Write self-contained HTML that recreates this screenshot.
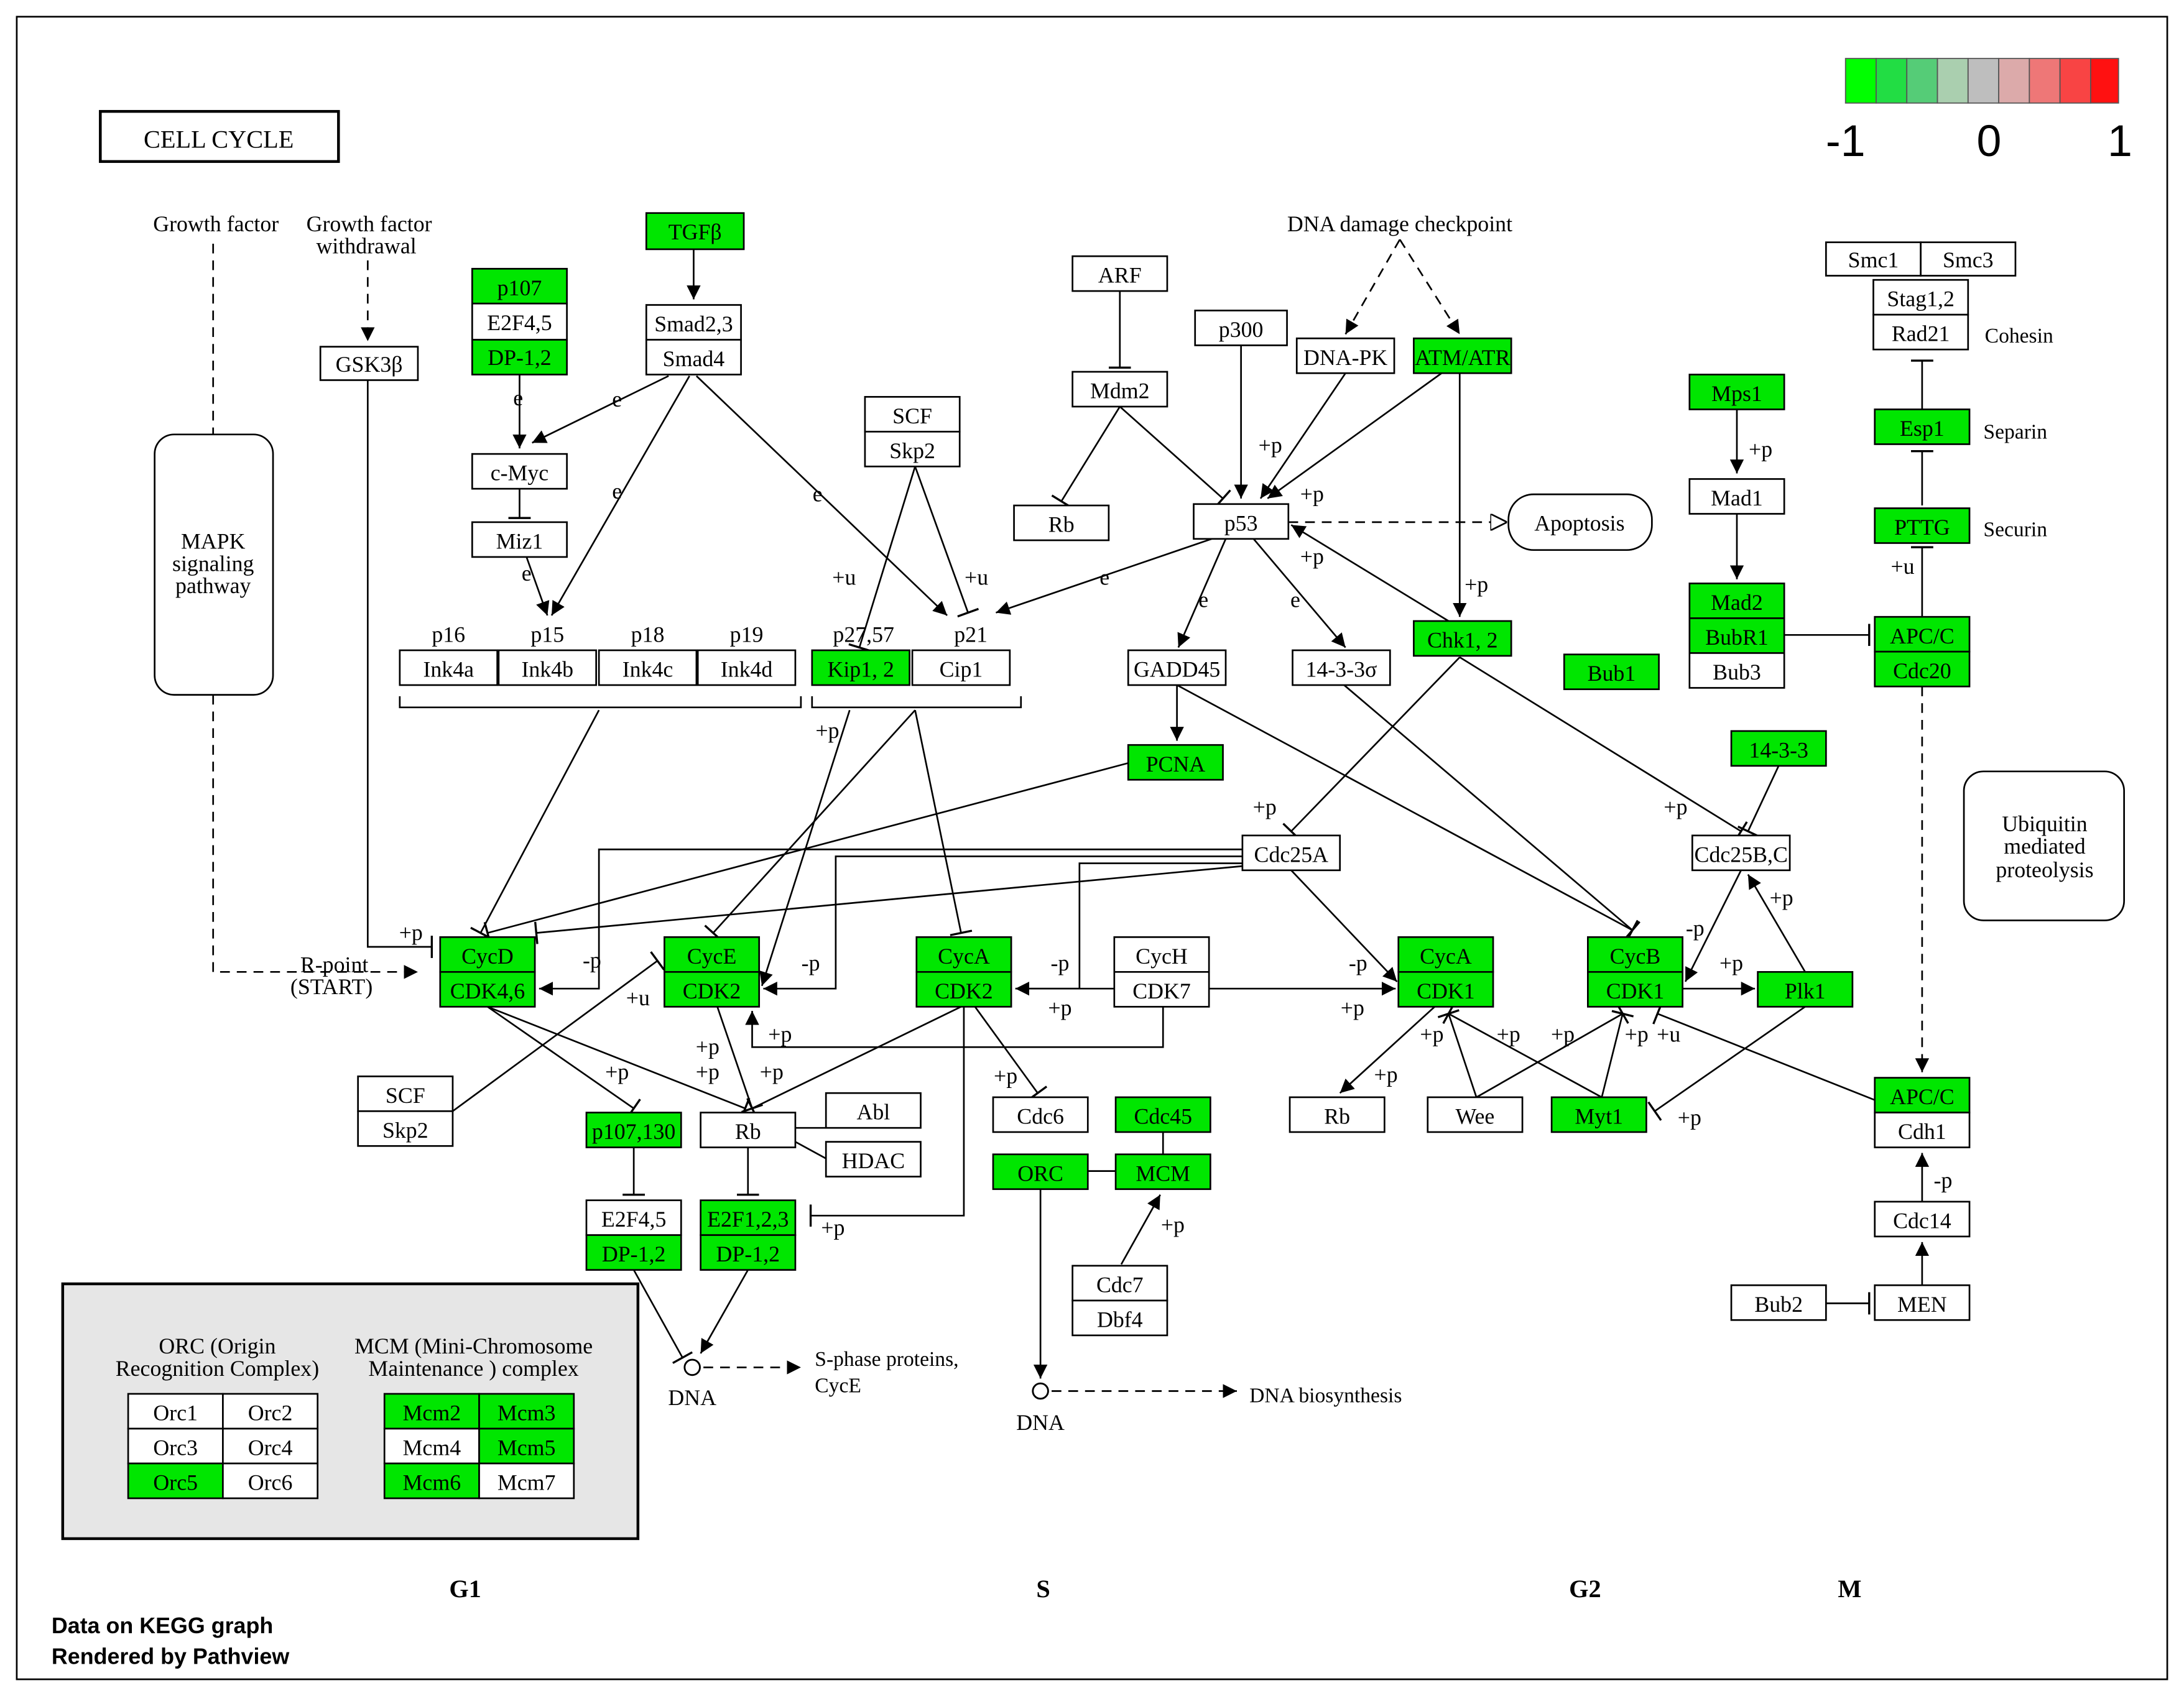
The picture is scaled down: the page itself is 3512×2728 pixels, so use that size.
<!DOCTYPE html>
<html><head><meta charset="utf-8"><style>
html,body{margin:0;padding:0;background:#fff}
svg{display:block}
text{font-family:"Liberation Serif",serif;font-size:16px;text-anchor:middle;fill:#000}
.b rect{fill:#fff;stroke:#000;stroke-width:1.2}
.g{fill:#00e600!important}
.e{fill:none;stroke:#000;stroke-width:1.2}
.d{stroke-dasharray:7,5}
.l{font-size:15px;text-anchor:start}
</style></head><body>
<svg width="3512" height="2728" viewBox="0 0 1568 1218" xmlns="http://www.w3.org/2000/svg">
<defs>
<marker id="a" viewBox="0 0 10 10" refX="10" refY="5" markerWidth="10" markerHeight="10" markerUnits="userSpaceOnUse" orient="auto"><path d="M0,0L10,5L0,10z" fill="#000"/></marker>
<marker id="o" viewBox="0 0 10 10" refX="10" refY="5" markerWidth="12" markerHeight="12" markerUnits="userSpaceOnUse" orient="auto"><path d="M0,0L10,5L0,10z" fill="#fff" stroke="#000"/></marker>
<marker id="t" viewBox="0 0 4 16" refX="2" refY="8" markerWidth="4" markerHeight="16" markerUnits="userSpaceOnUse" orient="auto"><path d="M2,0V16" stroke="#000" stroke-width="1.5"/></marker>
</defs>
<rect x="12" y="12" width="1544" height="1194" fill="#fff" stroke="#000" stroke-width="1.2"/>
<rect x="72" y="80" width="171" height="36" fill="#fff" stroke="#000" stroke-width="2"/>
<text x="157" y="106" style="font-size:18px">CELL  CYCLE</text>
<!-- colorbar -->
<g stroke="#555" stroke-width="0.8">
<rect x="1325" y="42" width="22" height="32" fill="#00ff00"/><rect x="1347" y="42" width="22" height="32" fill="#22dd44"/><rect x="1369" y="42" width="22" height="32" fill="#55cc77"/><rect x="1391" y="42" width="22" height="32" fill="#aacfaf"/><rect x="1413" y="42" width="22" height="32" fill="#bebebe"/><rect x="1435" y="42" width="22" height="32" fill="#dcaaaa"/><rect x="1457" y="42" width="22" height="32" fill="#ee7777"/><rect x="1479" y="42" width="22" height="32" fill="#f84444"/><rect x="1501" y="42" width="20" height="32" fill="#ff1111"/>
</g>
<text x="1325" y="112" style="font-family:'Liberation Sans',sans-serif;font-size:32px">-1</text>
<text x="1428" y="112" style="font-family:'Liberation Sans',sans-serif;font-size:32px">0</text>
<text x="1522" y="112" style="font-family:'Liberation Sans',sans-serif;font-size:32px">1</text>

<!-- rounded -->
<g fill="#fff" stroke="#000" stroke-width="1.2">
<rect x="111" y="312" width="85" height="187" rx="14"/>
<rect x="1083" y="355" width="103" height="40" rx="18"/>
<rect x="1410" y="554" width="115" height="107" rx="14"/>
<rect x="45" y="922" width="413" height="183" fill="#e6e6e6" stroke-width="2"/>
</g>
<text x="153" y="394">MAPK</text><text x="153" y="410">signaling</text><text x="153" y="426">pathway</text>
<text x="1134" y="381">Apoptosis</text>
<text x="1468" y="597">Ubiquitin</text><text x="1468" y="613">mediated</text><text x="1468" y="630">proteolysis</text>

<!-- edges -->
<g class="e">
<path class="d" d="M153,175V312M153,499V698H300" marker-end="url(#a)"/>
<path class="d" d="M264,187V245" marker-end="url(#a)"/>
<path d="M264,273V680H310" marker-end="url(#t)"/>
<path d="M498,179V215" marker-end="url(#a)"/>
<path d="M373,269V322" marker-end="url(#a)"/>
<path d="M480,270L382,318" marker-end="url(#a)"/>
<path d="M373,351V372" marker-end="url(#t)"/>
<path d="M378,400L393,442" marker-end="url(#a)"/>
<path d="M495,270L396,442" marker-end="url(#a)"/>
<path d="M500,270L680,442" marker-end="url(#a)"/>
<path d="M657,335L617,465" marker-end="url(#t)"/>
<path d="M657,335L695,440" marker-end="url(#t)"/>
<path d="M804,209V264" marker-end="url(#t)"/>
<path d="M804,292L762,360" marker-end="url(#t)"/>
<path d="M804,292L878,358" marker-end="url(#t)"/>
<path d="M891,248V358" marker-end="url(#a)"/>
<path class="d" d="M1005,172L966,240" marker-end="url(#a)"/>
<path class="d" d="M1005,172L1048,240" marker-end="url(#a)"/>
<path d="M966,268L905,358" marker-end="url(#a)"/>
<path d="M1035,268L910,358" marker-end="url(#a)"/>
<path d="M1048,268V443" marker-end="url(#a)"/>
<path class="d" d="M925,375H1082" marker-end="url(#o)"/>
<path d="M1040,446L927,377" marker-end="url(#a)"/>
<path d="M870,387L715,440" marker-end="url(#a)"/>
<path d="M880,387L846,465" marker-end="url(#a)"/>
<path d="M900,387L966,465" marker-end="url(#a)"/>
<path d="M845,492V532" marker-end="url(#a)"/>
<path d="M287,500V508H575V500M583,500V508H733V500"/>
<path d="M810,548L350,670" marker-end="url(#t)"/>
<path d="M430,510L345,670" marker-end="url(#t)"/>
<path d="M657,510L512,670" marker-end="url(#t)"/>
<path d="M657,510L690,670" marker-end="url(#t)"/>
<path d="M610,510L547,708" marker-end="url(#a)"/>
<path d="M892,610H430V710H387" marker-end="url(#a)"/>
<path d="M892,615H600V710H548" marker-end="url(#a)"/>
<path d="M892,620H775V710H729" marker-end="url(#a)"/>
<path d="M892,622L385,670" marker-end="url(#t)"/>
<path d="M927,625L1003,705" marker-end="url(#a)"/>
<path d="M845,492L1172,668" marker-end="url(#t)"/>
<path d="M965,492L1172,668" marker-end="url(#t)"/>
<path d="M1048,472L927,597" marker-end="url(#t)"/>
<path d="M1048,472L1250,597" marker-end="url(#t)"/>
<path d="M1277,550L1255,597" marker-end="url(#t)"/>
<path d="M1250,625L1210,705" marker-end="url(#a)"/>
<path d="M1296,698L1255,628" marker-end="url(#a)"/>
<path d="M1208,710H1260" marker-end="url(#a)"/>
<path d="M868,710H1002" marker-end="url(#a)"/>
<path d="M800,710H729" marker-end="url(#a)"/>
<path d="M835,723V752H540V726" marker-end="url(#a)"/>
<path d="M350,723L455,796" marker-end="url(#t)"/>
<path d="M350,723L535,796" marker-end="url(#t)"/>
<path d="M515,723L540,796" marker-end="url(#t)"/>
<path d="M690,723L540,796" marker-end="url(#t)"/>
<path d="M700,723L745,785" marker-end="url(#t)"/>
<path d="M692,723V873H582" marker-end="url(#t)"/>
<path d="M325,798L472,690" marker-end="url(#t)"/>
<path d="M455,824V858" marker-end="url(#t)"/>
<path d="M537,824V858" marker-end="url(#t)"/>
<path d="M571,810H593M571,820L593,832"/>
<path d="M455,912L490,975" marker-end="url(#t)"/>
<path d="M537,912L503,972" marker-end="url(#a)"/>
<path class="d" d="M505,982H575" marker-end="url(#a)"/>
<path d="M747,854V990" marker-end="url(#a)"/>
<path class="d" d="M755,999H888" marker-end="url(#a)"/>
<path d="M781,841H801M835,813V829"/>
<path d="M805,908L833,858" marker-end="url(#a)"/>
<path d="M1030,723L962,785" marker-end="url(#a)"/>
<path d="M1060,788L1040,728" marker-end="url(#t)"/>
<path d="M1060,788L1165,728" marker-end="url(#t)"/>
<path d="M1150,788L1040,728" marker-end="url(#t)"/>
<path d="M1150,788L1165,728" marker-end="url(#t)"/>
<path d="M1296,723L1188,798" marker-end="url(#t)"/>
<path d="M1346,790L1190,728" marker-end="url(#t)"/>
<path d="M1247,294V340" marker-end="url(#a)"/>
<path d="M1247,369V416" marker-end="url(#a)"/>
<path d="M1281,456H1342" marker-end="url(#t)"/>
<path d="M1380,294V259" marker-end="url(#t)"/>
<path d="M1380,363V324" marker-end="url(#t)"/>
<path d="M1380,443V393" marker-end="url(#t)"/>
<path class="d" d="M1380,493V770" marker-end="url(#a)"/>
<path d="M1380,863V828" marker-end="url(#a)"/>
<path d="M1380,923V892" marker-end="url(#a)"/>
<path d="M1311,936H1342" marker-end="url(#t)"/>
</g>
<circle cx="497" cy="982" r="5.5" fill="#fff" stroke="#000" stroke-width="1.3"/>
<circle cx="747" cy="999" r="5.5" fill="#fff" stroke="#000" stroke-width="1.3"/>

<!-- nodes -->
<g class="b">
<rect x="464" y="153" width="70" height="26" class="g"/>
<rect x="339" y="193" width="68" height="25" class="g"/><rect x="339" y="218" width="68" height="26"/><rect x="339" y="244" width="68" height="25" class="g"/>
<rect x="464" y="219" width="68" height="25"/><rect x="464" y="244" width="68" height="25"/>
<rect x="230" y="249" width="70" height="24"/>
<rect x="339" y="326" width="68" height="25"/><rect x="339" y="375" width="68" height="25"/>
<rect x="621" y="285" width="68" height="25"/><rect x="621" y="310" width="68" height="25"/>
<rect x="770" y="184" width="68" height="25"/><rect x="770" y="267" width="68" height="25"/><rect x="728" y="363" width="68" height="25"/>
<rect x="858" y="223" width="66" height="25"/><rect x="931" y="243" width="70" height="25"/><rect x="1015" y="243" width="70" height="25" class="g"/>
<rect x="857" y="362" width="68" height="25"/>
<rect x="1311" y="174" width="68" height="24"/><rect x="1379" y="174" width="68" height="24"/><rect x="1345" y="201" width="68" height="25"/><rect x="1345" y="226" width="68" height="25"/>
<rect x="1213" y="269" width="68" height="25" class="g"/><rect x="1213" y="344" width="68" height="25"/>
<rect x="1346" y="294" width="68" height="25" class="g"/><rect x="1346" y="365" width="68" height="25" class="g"/>
<rect x="1213" y="419" width="68" height="25" class="g"/><rect x="1213" y="444" width="68" height="25" class="g"/><rect x="1213" y="469" width="68" height="25"/>
<rect x="1123" y="470" width="68" height="25" class="g"/>
<rect x="1346" y="443" width="68" height="25" class="g"/><rect x="1346" y="468" width="68" height="25" class="g"/>
<rect x="287" y="467" width="70" height="25"/><rect x="358" y="467" width="70" height="25"/><rect x="430" y="467" width="70" height="25"/><rect x="501" y="467" width="70" height="25"/>
<rect x="583" y="467" width="70" height="25" class="g"/><rect x="655" y="467" width="70" height="25"/>
<rect x="810" y="467" width="70" height="25"/><rect x="928" y="467" width="70" height="25"/>
<rect x="1015" y="446" width="70" height="25" class="g"/>
<rect x="810" y="535" width="68" height="25" class="g"/>
<rect x="1243" y="525" width="68" height="25" class="g"/>
<rect x="892" y="600" width="70" height="25"/><rect x="1215" y="600" width="70" height="25"/>
<rect x="316" y="673" width="68" height="25" class="g"/><rect x="316" y="698" width="68" height="25" class="g"/>
<rect x="477" y="673" width="68" height="25" class="g"/><rect x="477" y="698" width="68" height="25" class="g"/>
<rect x="658" y="673" width="68" height="25" class="g"/><rect x="658" y="698" width="68" height="25" class="g"/>
<rect x="800" y="673" width="68" height="25"/><rect x="800" y="698" width="68" height="25"/>
<rect x="1004" y="673" width="68" height="25" class="g"/><rect x="1004" y="698" width="68" height="25" class="g"/>
<rect x="1140" y="673" width="68" height="25" class="g"/><rect x="1140" y="698" width="68" height="25" class="g"/>
<rect x="1262" y="698" width="68" height="25" class="g"/>
<rect x="257" y="773" width="68" height="25"/><rect x="257" y="798" width="68" height="25"/>
<rect x="421" y="799" width="68" height="25" class="g"/>
<rect x="503" y="799" width="68" height="25"/><rect x="593" y="785" width="68" height="25"/><rect x="593" y="820" width="68" height="25"/>
<rect x="713" y="788" width="68" height="25"/><rect x="801" y="788" width="68" height="25" class="g"/>
<rect x="713" y="829" width="68" height="25" class="g"/><rect x="801" y="829" width="68" height="25" class="g"/>
<rect x="926" y="788" width="68" height="25"/><rect x="1025" y="788" width="68" height="25"/><rect x="1114" y="788" width="68" height="25" class="g"/>
<rect x="1346" y="774" width="68" height="25" class="g"/><rect x="1346" y="799" width="68" height="25"/>
<rect x="1346" y="863" width="68" height="25"/><rect x="1243" y="923" width="68" height="25"/><rect x="1346" y="923" width="68" height="25"/>
<rect x="421" y="862" width="68" height="25"/><rect x="421" y="887" width="68" height="25" class="g"/>
<rect x="503" y="862" width="68" height="25" class="g"/><rect x="503" y="887" width="68" height="25" class="g"/>
<rect x="770" y="909" width="68" height="25"/><rect x="770" y="934" width="68" height="25"/>
<rect x="92" y="1001" width="68" height="25"/><rect x="160" y="1001" width="68" height="25"/><rect x="92" y="1026" width="68" height="25"/><rect x="160" y="1026" width="68" height="25"/><rect x="92" y="1051" width="68" height="25" class="g"/><rect x="160" y="1051" width="68" height="25"/>
<rect x="276" y="1001" width="68" height="25" class="g"/><rect x="344" y="1001" width="68" height="25" class="g"/><rect x="276" y="1026" width="68" height="25"/><rect x="344" y="1026" width="68" height="25" class="g"/><rect x="276" y="1051" width="68" height="25" class="g"/><rect x="344" y="1051" width="68" height="25"/>
</g>
<g>
<text x="499" y="172">TGFβ</text>
<text x="373" y="212">p107</text><text x="373" y="237">E2F4,5</text><text x="373" y="262">DP-1,2</text>
<text x="498" y="238">Smad2,3</text><text x="498" y="263">Smad4</text>
<text x="265" y="267">GSK3β</text>
<text x="373" y="345">c-Myc</text><text x="373" y="394">Miz1</text>
<text x="655" y="304">SCF</text><text x="655" y="329">Skp2</text>
<text x="804" y="203">ARF</text><text x="804" y="286">Mdm2</text><text x="762" y="382">Rb</text>
<text x="891" y="242">p300</text><text x="966" y="262">DNA-PK</text><text x="1050" y="262">ATM/ATR</text>
<text x="891" y="381">p53</text>
<text x="1345" y="192">Smc1</text><text x="1413" y="192">Smc3</text><text x="1379" y="220">Stag1,2</text><text x="1379" y="245">Rad21</text>
<text x="1247" y="288">Mps1</text><text x="1247" y="363">Mad1</text>
<text x="1380" y="313">Esp1</text><text x="1380" y="384">PTTG</text>
<text x="1247" y="438">Mad2</text><text x="1247" y="463">BubR1</text><text x="1247" y="488">Bub3</text><text x="1157" y="489">Bub1</text>
<text x="1380" y="462">APC/C</text><text x="1380" y="487">Cdc20</text>
<text x="322" y="486">Ink4a</text><text x="393" y="486">Ink4b</text><text x="465" y="486">Ink4c</text><text x="536" y="486">Ink4d</text>
<text x="618" y="486">Kip1, 2</text><text x="690" y="486">Cip1</text>
<text x="845" y="486">GADD45</text><text x="963" y="486">14-3-3σ</text><text x="1050" y="465">Chk1, 2</text>
<text x="844" y="554">PCNA</text><text x="1277" y="544">14-3-3</text>
<text x="927" y="619">Cdc25A</text><text x="1250" y="619">Cdc25B,C</text>
<text x="350" y="692">CycD</text><text x="350" y="717">CDK4,6</text>
<text x="511" y="692">CycE</text><text x="511" y="717">CDK2</text>
<text x="692" y="692">CycA</text><text x="692" y="717">CDK2</text>
<text x="834" y="692">CycH</text><text x="834" y="717">CDK7</text>
<text x="1038" y="692">CycA</text><text x="1038" y="717">CDK1</text>
<text x="1174" y="692">CycB</text><text x="1174" y="717">CDK1</text>
<text x="1296" y="717">Plk1</text>
<text x="291" y="792">SCF</text><text x="291" y="817">Skp2</text>
<text x="455" y="818">p107,130</text><text x="537" y="818">Rb</text><text x="627" y="804">Abl</text><text x="627" y="839">HDAC</text>
<text x="747" y="807">Cdc6</text><text x="835" y="807">Cdc45</text><text x="747" y="848">ORC</text><text x="835" y="848">MCM</text>
<text x="960" y="807">Rb</text><text x="1059" y="807">Wee</text><text x="1148" y="807">Myt1</text>
<text x="1380" y="793">APC/C</text><text x="1380" y="818">Cdh1</text>
<text x="1380" y="882">Cdc14</text><text x="1277" y="942">Bub2</text><text x="1380" y="942">MEN</text>
<text x="455" y="881">E2F4,5</text><text x="455" y="906">DP-1,2</text><text x="537" y="881">E2F1,2,3</text><text x="537" y="906">DP-1,2</text>
<text x="804" y="928">Cdc7</text><text x="804" y="953">Dbf4</text>
<text x="126" y="1020">Orc1</text><text x="194" y="1020">Orc2</text><text x="126" y="1045">Orc3</text><text x="194" y="1045">Orc4</text><text x="126" y="1070">Orc5</text><text x="194" y="1070">Orc6</text>
<text x="310" y="1020">Mcm2</text><text x="378" y="1020">Mcm3</text><text x="310" y="1045">Mcm4</text><text x="378" y="1045">Mcm5</text><text x="310" y="1070">Mcm6</text><text x="378" y="1070">Mcm7</text>
<text x="156" y="972">ORC (Origin</text><text x="156" y="988">Recognition Complex)</text>
<text x="340" y="972">MCM (Mini-Chromosome</text><text x="340" y="988">Maintenance ) complex</text>
<text x="155" y="166">Growth factor</text><text x="265" y="166">Growth factor</text><text x="263" y="182">withdrawal</text>
<text x="1005" y="166">DNA damage checkpoint</text>
<text x="322" y="461">p16</text><text x="393" y="461">p15</text><text x="465" y="461">p18</text><text x="536" y="461">p19</text><text x="620" y="461">p27,57</text><text x="697" y="461">p21</text>
<text class="l" x="1425" y="246">Cohesin</text><text class="l" x="1424" y="315">Separin</text><text class="l" x="1424" y="385">Securin</text>
<text x="240" y="698">R-point</text><text x="238" y="714">(START)</text>
<text x="497" y="1009">DNA</text><text x="747" y="1027">DNA</text>
<text class="l" x="585" y="981">S-phase proteins,</text><text class="l" x="585" y="1000">CycE</text>
<text class="l" x="897" y="1007">DNA biosynthesis</text>
<text x="334" y="1147" style="font-weight:bold;font-size:18px">G1</text><text x="749" y="1147" style="font-weight:bold;font-size:18px">S</text><text x="1138" y="1147" style="font-weight:bold;font-size:18px">G2</text><text x="1328" y="1147" style="font-weight:bold;font-size:18px">M</text>
<text x="37" y="1173" style="font-family:'Liberation Sans',sans-serif;font-weight:bold;text-anchor:start">Data on KEGG graph</text>
<text x="37" y="1195" style="font-family:'Liberation Sans',sans-serif;font-weight:bold;text-anchor:start">Rendered by Pathview</text>
</g>
<g style="font-size:15px">
<text x="372" y="291">e</text><text x="443" y="292">e</text><text x="443" y="358">e</text><text x="378" y="417">e</text><text x="587" y="360">e</text><text x="793" y="420">e</text><text x="864" y="436">e</text><text x="930" y="436">e</text>
<text x="606" y="420">+u</text><text x="701" y="420">+u</text><text x="912" y="325">+p</text><text x="942" y="360">+p</text><text x="942" y="405">+p</text><text x="1060" y="425">+p</text>
<text x="1264" y="328">+p</text><text x="1366" y="412">+u</text><text x="594" y="530">+p</text><text x="908" y="585">+p</text><text x="1203" y="585">+p</text><text x="1279" y="650">+p</text>
<text x="295" y="675">+p</text><text x="425" y="695">-p</text><text x="458" y="722">+u</text><text x="582" y="697">-p</text><text x="560" y="748">+p</text><text x="761" y="697">-p</text><text x="761" y="729">+p</text>
<text x="975" y="697">-p</text><text x="971" y="729">+p</text><text x="1217" y="672">-p</text><text x="1243" y="697">+p</text><text x="508" y="757">+p</text><text x="508" y="775">+p</text><text x="554" y="775">+p</text><text x="443" y="775">+p</text>
<text x="722" y="778">+p</text><text x="1028" y="748">+p</text><text x="995" y="777">+p</text><text x="1083" y="748">+p</text><text x="1122" y="748">+p</text><text x="1175" y="748">+p</text><text x="1198" y="748">+u</text><text x="1213" y="808">+p</text>
<text x="598" y="887">+p</text><text x="842" y="885">+p</text><text x="1395" y="853">-p</text>
</g>
</svg>
</body></html>
